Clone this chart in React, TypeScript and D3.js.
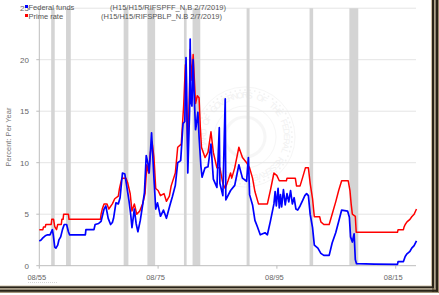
import React from "react";
import * as d3 from "d3";

const ffDates = [1955.6,1955.9,1956.2,1956.6,1957.0,1957.4,1957.8,1957.95,1958.2,1958.4,1958.7,1958.9,1959.2,1959.5,1959.8,1960.2,1960.5,1960.7,1963.35,1963.45,1964.8,1965.0,1965.6,1966.0,1966.5,1966.8,1967.2,1967.6,1967.9,1968.1,1968.5,1968.9,1969.2,1969.6,1970.0,1970.3,1970.7,1971.0,1971.2,1971.6,1971.9,1972.2,1972.6,1973.0,1973.3,1973.6,1973.9,1974.1,1974.5,1974.9,1975.2,1975.5,1976.0,1976.5,1977.0,1977.6,1978.0,1978.5,1978.9,1979.4,1979.8,1980.1,1980.3,1980.4,1980.6,1980.9,1981.0,1981.1,1981.3,1981.5,1981.6,1981.9,1982.0,1982.3,1982.5,1982.8,1983.0,1983.5,1984.0,1984.5,1984.9,1985.5,1985.9,1986.0,1986.5,1986.9,1987.0,1987.8,1988.5,1989.2,1989.8,1990.5,1990.8,1991.0,1991.5,1991.9,1992.3,1992.8,1993.6,1994.0,1994.5,1995.1,1995.3,1995.5,1995.8,1996.0,1996.2,1996.4,1996.7,1997.0,1997.3,1997.6,1997.9,1998.2,1998.5,1998.8,1999.1,1999.5,1999.9,2000.3,2000.6,2000.9,2001.2,2001.6,2001.9,2002.5,2003.0,2003.5,2004.4,2004.9,2005.5,2006.0,2006.5,2007.5,2007.8,2008.0,2008.3,2008.6,2008.8,2009.0,2012.0,2015.9,2016.0,2016.9,2017.2,2017.5,2018.0,2018.3,2018.7,2019.1];
const ffValues = [2.4,2.5,2.7,2.9,3.0,3.0,3.5,3.0,1.8,1.7,2.0,2.5,2.8,3.5,4.0,4.0,3.3,3.0,3.0,3.5,3.5,4.0,4.1,4.3,5.5,5.8,4.6,4.0,4.2,4.6,6.1,6.0,6.6,9.0,8.9,7.8,6.3,4.9,3.7,5.5,4.1,3.3,4.4,5.9,7.1,10.7,9.9,9.0,12.9,8.5,5.5,6.1,4.8,5.4,4.6,5.9,6.7,7.8,10.0,10.2,13.8,14.0,20.2,17.5,9.0,15.0,22.0,16.0,15.5,20.0,17.8,13.2,13.5,14.9,12.5,9.7,8.6,9.5,9.6,11.8,8.4,7.6,13.4,8.0,6.8,16.2,6.4,7.3,7.8,9.8,8.5,8.2,10.5,6.9,5.9,4.4,3.8,3.0,3.2,3.0,4.3,6.0,7.2,5.8,7.5,5.6,6.9,5.7,7.4,5.9,7.0,6.2,7.3,6.0,6.6,5.5,5.4,5.8,6.3,6.8,7.0,6.8,5.0,3.7,2.0,1.7,1.2,1.0,1.0,2.2,3.2,4.3,5.4,5.3,4.7,2.8,2.3,3.1,0.6,0.2,0.15,0.13,0.4,0.4,0.9,1.15,1.4,1.7,1.95,2.4];

const primeDates = [1955.6,1956.2,1956.3,1956.6,1956.7,1957.6,1957.7,1958.0,1958.2,1958.5,1958.7,1959.3,1959.4,1959.6,1959.7,1960.5,1960.6,1965.9,1966.0,1966.2,1966.5,1967.0,1967.3,1967.9,1968.3,1968.9,1969.1,1969.5,1970.2,1970.5,1970.9,1971.2,1971.6,1972.0,1972.5,1973.0,1973.4,1973.7,1974.0,1974.3,1974.6,1974.9,1975.2,1975.6,1976.0,1976.6,1977.0,1977.5,1977.8,1978.5,1978.9,1979.5,1979.9,1980.2,1980.3,1980.6,1980.9,1980.99,1981.3,1981.5,1981.9,1982.2,1982.5,1982.7,1982.9,1983.5,1984.0,1984.5,1984.9,1985.5,1986.0,1986.5,1986.9,1987.4,1987.8,1988.0,1988.5,1989.2,1989.8,1990.5,1991.0,1991.5,1991.9,1992.5,1994.0,1994.5,1995.1,1995.6,1996.0,1997.2,1997.3,1998.7,1998.9,1999.5,1999.9,2000.4,2000.9,2001.2,2001.6,2001.9,2002.8,2003.0,2003.5,2004.4,2004.9,2005.5,2006.0,2006.5,2007.6,2007.9,2008.1,2008.3,2008.8,2008.95,2015.9,2016.0,2016.9,2017.0,2017.2,2017.5,2018.0,2018.3,2018.7,2019.1];
const primeValues = [3.5,3.5,3.75,3.75,4.0,4.0,4.5,4.5,3.8,3.5,4.0,4.0,4.5,4.5,5.0,5.0,4.5,4.5,5.0,5.5,6.0,6.0,5.5,6.0,6.5,6.75,7.5,8.5,8.5,8.0,7.0,5.3,6.0,5.0,5.3,6.0,7.0,9.8,9.0,11.0,12.0,10.5,7.5,7.3,6.8,7.0,6.25,6.75,7.75,9.0,11.5,11.8,15.5,19.5,17.5,11.0,17.5,21.0,18.0,20.5,15.75,16.5,16.3,13.5,11.5,10.5,11.0,13.0,11.0,9.5,9.5,8.0,7.5,8.3,9.0,8.5,9.5,11.5,10.5,10.0,9.5,8.5,7.2,6.0,6.0,7.3,9.0,8.75,8.25,8.25,8.5,8.5,7.75,7.75,8.5,9.5,9.5,8.0,6.5,4.75,4.75,4.25,4.0,4.0,5.0,6.2,7.3,8.25,8.25,7.3,6.0,5.0,4.8,3.25,3.25,3.5,3.5,3.75,4.0,4.25,4.5,4.75,5.0,5.5];

const recessionStarts = [1957.6,1960.1,1969.8,1973.8,1979.95,1981.4,1990.5,2001.1,2007.8];
const recessionEnds = [1958.2,1960.9,1970.6,1975.1,1980.4,1982.7,1991.0,2001.7,2009.3];

const yTicks = [0,5,10,15,20,25];
const xTickYears = [1955.6,1975.6,1995.6,2015.6];
const xTickLabels = ["08/55","08/75","08/95","08/15"];

const seriesNames = ["Federal funds","Prime rate"];
const seriesCodes = ["(H15/H15/RIFSPFF_N.B 2/7/2019)","(H15/H15/RIFSPBLP_N.B 2/7/2019)"];
const seriesColors = ["#0000ff","#ff0000"];
const sealText = "BOARD OF GOVERNORS OF THE FEDERAL RESERVE SYSTEM";

const W = 439, H = 295;
const x = d3.scaleLinear().domain([1955.6, 2015.6]).range([39.3, 395.7]);
const y = d3.scaleLinear().domain([0, 25]).range([265.7, 8.2]);
const xLeft = 39.3, xRight = 416;

export default function App() {
  const ff = ffDates.map((d, i) => [d, ffValues[i]] as [number, number]);
  const pr = primeDates.map((d, i) => [d, primeValues[i]] as [number, number]);
  const line = d3.line<[number, number]>().x(d => x(d[0])).y(d => y(d[1]));
  const font = "Arial, 'Liberation Sans', sans-serif";
  const cx = 245, cy = 137;
  const textR = 39;
  const chars = sealText.split("");
  const startA = -200, spanA = 330;
  const dots = d3.range(0, 60).map(i => {
    const a = (i / 60) * Math.PI * 2;
    return [cx + 47 * Math.cos(a), cy + 47 * Math.sin(a)];
  });
  return (
    <svg width={W} height={H} style={{ position: "absolute", left: 0, top: 0, background: "#fff" }} fontFamily={font}>
      <rect x={0} y={0} width={W} height={H} fill="#fff" />
      <g opacity={0.45}>
        <circle cx={cx} cy={cy} r={50} fill="none" stroke="#e6e6e6" strokeWidth={0.8} />
        {dots.map((d, i) => <circle key={i} cx={d[0]} cy={d[1]} r={0.9} fill="#e2e2e2" />)}
        <circle cx={cx} cy={cy} r={31} fill="none" stroke="#e6e6e6" strokeWidth={0.8} />
        <circle cx={cx} cy={cy} r={20} fill="none" stroke="#ececec" strokeWidth={3} />
        {chars.map((c, i) => {
          const deg = startA + (i / chars.length) * spanA;
          const rad = (deg * Math.PI) / 180;
          const px = cx + textR * Math.cos(rad);
          const py = cy + textR * Math.sin(rad);
          return (
            <text key={i} x={0} y={0} fontSize={8.5} fill="#e0e0e0" textAnchor="middle"
              transform={`translate(${px.toFixed(2)},${py.toFixed(2)}) rotate(${(deg + 90).toFixed(1)})`}>{c}</text>
          );
        })}
      </g>
      {yTicks.filter(t => t > 0).map(t => (
        <line key={t} x1={xLeft} x2={xRight} y1={y(t)} y2={y(t)} stroke="#e4e4e4" strokeWidth={1} />
      ))}
      {recessionStarts.map((s, i) => (
        <rect key={i} x={x(s)} y={y(25)} width={Math.max(2.5, x(recessionEnds[i]) - x(s))} height={y(0) - y(25)} fill="#d4d4d4" />
      ))}
      <line x1={xLeft} x2={xLeft} y1={y(25)} y2={y(0)} stroke="#bdbdbd" strokeWidth={1} />
      <line x1={xLeft} x2={xRight} y1={y(0)} y2={y(0)} stroke="#bdbdbd" strokeWidth={1} />
      {yTicks.map(t => (
        <g key={t}>
          <line x1={xLeft - 3} x2={xLeft} y1={y(t)} y2={y(t)} stroke="#bdbdbd" />
          <text x={29} y={y(t) + 2.8} fontSize={8} fill="#666" textAnchor="end">{t}</text>
        </g>
      ))}
      {xTickYears.map((t, i) => (
        <g key={t}>
          <line x1={x(t)} x2={x(t)} y1={y(0)} y2={y(0) + 3} stroke="#bdbdbd" />
          <text x={x(t) - 2.5} y={280} fontSize={7.5} fill="#666" textAnchor="middle">{xTickLabels[i]}</text>
        </g>
      ))}
      <line x1={28} x2={57} y1={282.5} y2={282.5} stroke="#bbb" strokeWidth={0.6} strokeDasharray="1,1" />
      <text transform={`translate(11,${137}) rotate(-90)`} fontSize={7.5} fill="#777" textAnchor="middle">Percent: Per Year</text>
      <path d={line(pr) || ""} fill="none" stroke="#ff0000" strokeWidth={1.5} strokeLinejoin="round" />
      <path d={line(ff) || ""} fill="none" stroke="#0000ff" strokeWidth={1.7} strokeLinejoin="round" />
      {seriesNames.map((n, i) => (
        <g key={n}>
          <rect x={25} y={5 + i * 9} width={3} height={3} fill={seriesColors[i]} />
          <text x={28.5} y={10 + i * 9} fontSize={7.5} fill="#555">{n}</text>
          <text x={226 - i * 4} y={10 + i * 9} fontSize={7.5} fill="#555" textAnchor="end">{seriesCodes[i]}</text>
        </g>
      ))}
      <rect x={431} y={0} width={1} height={287} fill="#cfc2a6" />
      <rect x={432} y={0} width={2.2} height={292} fill="#2a2418" />
      <rect x={434.2} y={0} width={1.4} height={292} fill="#a89878" />
      <rect x={435.6} y={0} width={2.4} height={292} fill="#2a2418" />
      <rect x={438} y={0} width={1} height={293} fill="#9a8a6c" />
      <rect x={0} y={285.5} width={432} height={0.8} fill="#cfc2a6" />
      <rect x={0} y={286.3} width={434} height={2.1} fill="#2a2418" />
      <rect x={0} y={288.4} width={436} height={1.3} fill="#a89878" />
      <rect x={0} y={289.7} width={438} height={2.2} fill="#2a2418" />
      <rect x={0} y={291.9} width={439} height={1} fill="#9a8a6c" />
    </svg>
  );
}
